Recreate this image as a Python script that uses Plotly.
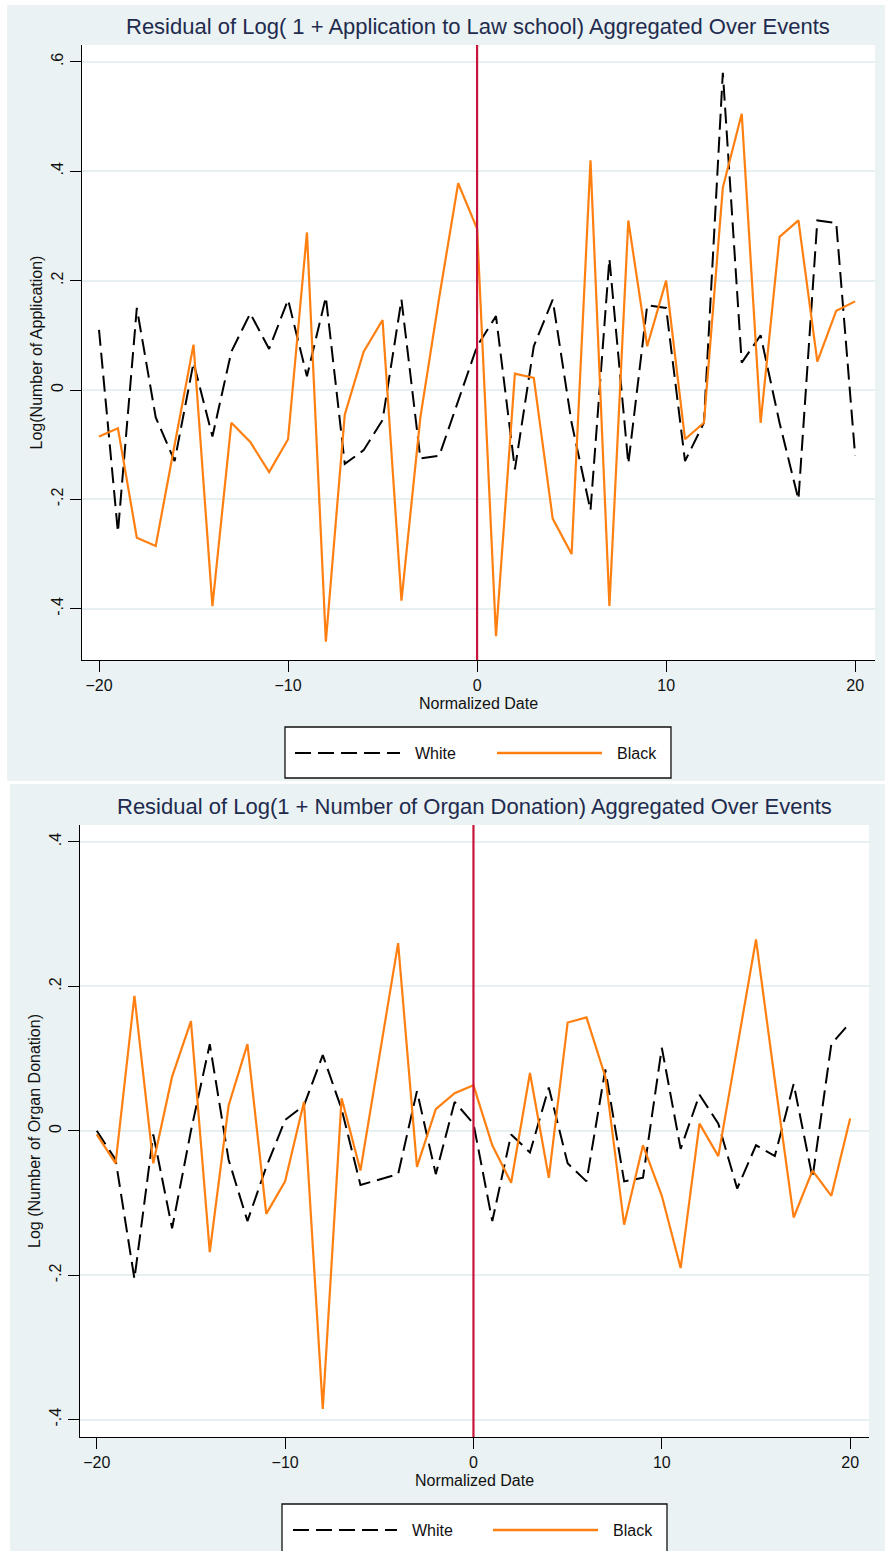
import plotly.graph_objects as go

W, H = 885, 1551

# ---------------- data ----------------
dates = list(range(-20, 21))
EVENT_DATE = 0
series_names = ["White", "Black"]

law_white = [0.11, -0.26, 0.15, -0.05, -0.13, 0.05, -0.085, 0.07, 0.14, 0.075,
             0.165, 0.025, 0.17, -0.135, -0.11, -0.055, 0.165, -0.125, -0.12, -0.02,
             0.08, 0.135, -0.145, 0.08, 0.165, -0.06, -0.22, 0.24, -0.135, 0.155,
             0.15, -0.13, -0.06, 0.58, 0.05, 0.10, -0.06, -0.20, 0.31, 0.305, -0.12]
law_black = [-0.085, -0.07, -0.27, -0.285, -0.10, 0.083, -0.395, -0.06, -0.095, -0.15,
             -0.09, 0.288, -0.46, -0.045, 0.07, 0.128, -0.385, -0.05, 0.17, 0.378,
             0.295, -0.45, 0.03, 0.022, -0.235, -0.30, 0.42, -0.395, 0.31, 0.08,
             0.20, -0.09, -0.06, 0.37, 0.505, -0.06, 0.28, 0.31, 0.052, 0.145, 0.162]

organ_white = [0.0, -0.04, -0.205, -0.005, -0.135, 0.0, 0.12, -0.04, -0.125, -0.05,
               0.015, 0.035, 0.105, 0.03, -0.075, -0.068, -0.06, 0.055, -0.06, 0.04,
               0.01, -0.125, -0.005, -0.03, 0.06, -0.045, -0.07, 0.085, -0.07, -0.065,
               0.115, -0.025, 0.05, 0.01, -0.08, -0.02, -0.035, 0.065, -0.065, 0.12, 0.15]
organ_black = [-0.005, -0.045, 0.187, -0.045, 0.075, 0.152, -0.168, 0.035, 0.12, -0.115,
               -0.07, 0.04, -0.385, 0.045, -0.055, 0.10, 0.26, -0.05, 0.03, 0.052,
               0.063, -0.02, -0.072, 0.08, -0.065, 0.15, 0.157, 0.075, -0.13, -0.02,
               -0.09, -0.19, 0.01, -0.035, 0.115, 0.265, 0.07, -0.12, -0.055, -0.09, 0.017]

x_ticks = [-20, -10, 0, 10, 20]
law_yticks = [-0.4, -0.2, 0, 0.2, 0.4, 0.6]
law_yticklabels = ["-.4", "-.2", "0", ".2", ".4", ".6"]
organ_yticks = [-0.4, -0.2, 0, 0.2, 0.4]
organ_yticklabels = ["-.4", "-.2", "0", ".2", ".4"]

title_top = "Residual of Log( 1 + Application to Law school) Aggregated Over Events"
title_bottom = "Residual of Log(1 + Number of Organ Donation) Aggregated Over Events"
ytitle_top = "Log(Number of Application)"
ytitle_bottom = "Log (Number of Organ Donation)"
xtitle = "Normalized Date"

# ---------------- style ----------------
PANEL = "#EAF2F3"
GRID = "#E6EFF1"
TITLE_C = "#1F2B4E"
ORANGE = "#FF7F10"
RED = "#C8143C"
FONT = "Liberation Sans, Arial, sans-serif"
DASH = "16px,7px"


def px(x):
    return x / W


def py(y):
    return 1 - y / H


fig = go.Figure()

# traces
fig.add_trace(go.Scatter(x=dates, y=law_white, mode="lines", name=series_names[0],
                         line=dict(color="black", width=2, dash=DASH),
                         xaxis="x", yaxis="y", showlegend=False))
fig.add_trace(go.Scatter(x=dates, y=law_black, mode="lines", name=series_names[1],
                         line=dict(color=ORANGE, width=2.2),
                         xaxis="x", yaxis="y", showlegend=False))
fig.add_trace(go.Scatter(x=dates, y=organ_white, mode="lines", name=series_names[0],
                         line=dict(color="black", width=2, dash=DASH),
                         xaxis="x2", yaxis="y2", showlegend=False))
fig.add_trace(go.Scatter(x=dates, y=organ_black, mode="lines", name=series_names[1],
                         line=dict(color=ORANGE, width=2.2),
                         xaxis="x2", yaxis="y2", showlegend=False))

axis_common = dict(showline=True, linecolor="black", linewidth=1.3, ticks="outside",
                   ticklen=11, tickwidth=1.3, tickcolor="black", zeroline=False,
                   tickfont=dict(family=FONT, size=16, color="#111"), mirror=False)

xa = dict(axis_common, tickvals=x_ticks, showgrid=False,
          title=dict(text=xtitle, font=dict(family=FONT, size=16, color="#111"), standoff=4))

fig.update_layout(
    width=W, height=H, autosize=False,
    margin=dict(l=0, r=0, t=0, b=0),
    paper_bgcolor=PANEL, plot_bgcolor="white",
    xaxis=dict(xa, domain=[px(82), px(875)], range=[-20.9, 21.05], anchor="y"),
    yaxis=dict(axis_common, domain=[py(660), py(45)], range=[-0.4936, 0.6307], anchor="x",
               tickvals=law_yticks, ticktext=law_yticklabels, tickangle=-90,
               showgrid=True, gridcolor=GRID, gridwidth=2,
               title=dict(text=ytitle_top, font=dict(family=FONT, size=16, color="#111"), standoff=2)),
    xaxis2=dict(xa, domain=[px(80), px(869)], range=[-20.89, 21.0], anchor="y2"),
    yaxis2=dict(axis_common, domain=[py(1437), py(825)], range=[-0.424, 0.4235], anchor="x2",
                tickvals=organ_yticks, ticktext=organ_yticklabels, tickangle=-90,
                showgrid=True, gridcolor=GRID, gridwidth=2,
                title=dict(text=ytitle_bottom, font=dict(family=FONT, size=16, color="#111"), standoff=2)),
    showlegend=False,
)

shapes = []
# white borders / gap between the two graph regions
shapes.append(dict(type="rect", xref="paper", yref="paper", x0=0, x1=1, y0=py(784), y1=py(781),
                   fillcolor="white", line=dict(width=0), layer="below"))
shapes.append(dict(type="rect", xref="paper", yref="paper", x0=0, x1=1, y0=py(5), y1=1,
                   fillcolor="white", line=dict(width=0), layer="below"))
shapes.append(dict(type="rect", xref="paper", yref="paper", x0=0, x1=px(7), y0=py(781), y1=1,
                   fillcolor="white", line=dict(width=0), layer="below"))
shapes.append(dict(type="rect", xref="paper", yref="paper", x0=0, x1=px(10), y0=0, y1=py(784),
                   fillcolor="white", line=dict(width=0), layer="below"))
fig.update_layout(shapes=shapes)

# event reference lines
fig.add_shape(type="line", xref="x", yref="y domain", x0=EVENT_DATE, x1=EVENT_DATE, y0=0, y1=1,
              line=dict(color=RED, width=2.2))
fig.add_shape(type="line", xref="x2", yref="y2 domain", x0=EVENT_DATE, x1=EVENT_DATE, y0=0, y1=1,
              line=dict(color=RED, width=2.2))

# titles
fig.add_annotation(text=title_top, xref="paper", yref="paper", x=px(478), y=py(26),
                   showarrow=False, font=dict(family=FONT, size=22, color=TITLE_C),
                   xanchor="center", yanchor="middle")
fig.add_annotation(text=title_bottom, xref="paper", yref="paper", x=px(474), y=py(806),
                   showarrow=False, font=dict(family=FONT, size=22, color=TITLE_C),
                   xanchor="center", yanchor="middle")


# legends (drawn as boxes with key samples)
def legend(box, y_mid, wl, bl):
    x0, y0, x1, y1 = box
    fig.add_shape(type="rect", xref="paper", yref="paper", x0=px(x0), x1=px(x1),
                  y0=py(y1), y1=py(y0), fillcolor="white", line=dict(color="#111", width=1.3))
    fig.add_shape(type="line", xref="paper", yref="paper", x0=px(wl[0]), x1=px(wl[1]),
                  y0=py(y_mid), y1=py(y_mid), line=dict(color="black", width=2.2, dash=DASH))
    fig.add_annotation(text=series_names[0], xref="paper", yref="paper", x=px(wl[2]), y=py(y_mid),
                       showarrow=False, xanchor="left", yanchor="middle",
                       font=dict(family=FONT, size=16, color="#111"))
    fig.add_shape(type="line", xref="paper", yref="paper", x0=px(bl[0]), x1=px(bl[1]),
                  y0=py(y_mid), y1=py(y_mid), line=dict(color=ORANGE, width=2.5))
    fig.add_annotation(text=series_names[1], xref="paper", yref="paper", x=px(bl[2]), y=py(y_mid),
                       showarrow=False, xanchor="left", yanchor="middle",
                       font=dict(family=FONT, size=16, color="#111"))


legend((285, 727, 671, 778), 753, (295, 400, 413), (497, 602, 615))
legend((282, 1504, 667, 1560), 1530, (293, 397, 410), (493, 598, 611))

fig.write_html("out.html")
